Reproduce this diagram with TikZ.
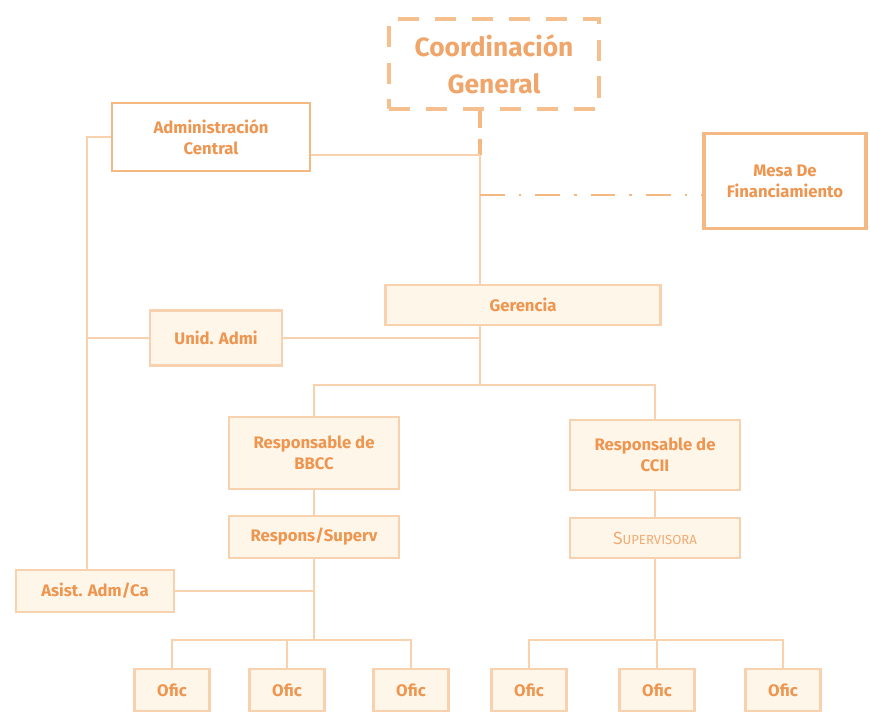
\documentclass[tikz,border=0pt]{standalone}
\usepackage{fontspec}
\setmainfont{Fira Sans}
\usepackage{tikz}
\usetikzlibrary{positioning, calc}
\usepackage{xcolor}
\definecolor{orgtext}{RGB}{238,150,80}
\definecolor{orgline}{RGB}{248,210,175}
\definecolor{orgedge}{RGB}{244,185,130}
\definecolor{orgfill}{RGB}{255,246,234}

\tikzset{
  box/.style={draw=orgedge, line width=1pt, fill=white, text=orgtext, align=center,
    font=\fontsize{9.5}{12}\selectfont\bfseries, inner sep=2pt},
  lightbox/.style={box, draw=orgline, fill=orgfill, line width=1.2pt},
  thickbox/.style={box, line width=2pt},
  dashbox/.style={box, draw=orgedge!90, line width=2.2pt, dash pattern=on 12pt off 9pt,
    text=orgtext!85, font=\fontsize{15}{21}\selectfont\bfseries},
  link/.style={draw=orgline, line width=1.1pt},
}

\begin{document}
\begin{tikzpicture}[x=0.02cm, y=-0.02cm]
  \useasboundingbox (0,0) rectangle (870,712);
  % top level
  \node[dashbox, minimum width=4.2cm, minimum height=1.8cm] (coord) at (494,64) {Coordinación\\General};
  \node[box, minimum width=3.95cm, minimum height=1.35cm] (admin) at (211,137) {Administración\\Central};
  \node[thickbox, minimum width=3.25cm, minimum height=1.9cm] (mesa) at (785,181) {Mesa De\\Financiamiento};
  \node[lightbox, minimum width=5.5cm, minimum height=0.8cm] (geren) at (523,305) {Gerencia};
  \node[lightbox, minimum width=2.65cm, minimum height=1.1cm] (unid) at (216,338) {Unid. Admi};
  % responsables
  \node[lightbox, minimum width=3.4cm, minimum height=1.45cm] (bbcc) at (314,453) {Responsable de\\BBCC};
  \node[lightbox, minimum width=3.4cm, minimum height=0.85cm] (supb) at (314,537) {Respons/Superv};
  \node[lightbox, minimum width=3.4cm, minimum height=1.4cm] (ccii) at (655,455) {Responsable de\\CCII};
  \node[lightbox, minimum width=3.4cm, minimum height=0.8cm, font=\fontsize{10}{12}\selectfont, text=orgtext!80] (supc) at (655,538) {S{\fontsize{7.5}{9}\selectfont UPERVISORA}};
  \node[lightbox, minimum width=3.15cm, minimum height=0.85cm] (asist) at (95,591) {Asist. Adm/Ca};
  % oficinas
  \foreach \n/\x in {o1/172, o2/287, o3/411, o4/529, o5/657, o6/783}
    \node[lightbox, minimum width=1.5cm, minimum height=0.85cm] (\n) at (\x,690) {Ofic};

  % connectors
  \coordinate (hub) at (480,155);
  \coordinate (mid) at (480,195);
  \coordinate (spine) at (87,137);
  \draw[link, draw=orgedge, line width=2pt, dash pattern=on 10pt off 6pt] (coord.south -| hub) -- (hub);
  \draw[link] (hub) -- (hub |- geren.north);
  \draw[link] (hub -| admin.east) -- (hub);
  \draw[link, draw=orgedge, line width=1.5pt, dash pattern=on 14pt off 8pt on 1.5pt off 8pt] (mid) -- (mid -| mesa.west);
  \draw[link] (admin.west) -- (spine) -- (spine |- asist.north);
  \draw[link] (unid.west) -- (unid.west -| spine);
  \draw[link] (unid.east) -- (unid.east -| hub);
  \coordinate (busR) at (480,385);
  \draw[link] (geren.south -| hub) -- (busR);
  \draw[link] (bbcc.north) -- (bbcc.north |- busR) -- (ccii.north |- busR) -- (ccii.north);
  \draw[link] (bbcc) -- (supb);
  \draw[link] (ccii) -- (supc);
  \coordinate (busL) at (314,640);
  \coordinate (busC) at (655,640);
  \draw[link] (supb.south) -- (busL);
  \draw[link] (asist.east) -- (asist.east -| busL);
  \draw[link] (o1.north) -- (o1.north |- busL) -- (o3.north |- busL) -- (o3.north);
  \draw[link] (o2.north) -- (o2.north |- busL);
  \draw[link] (supc.south) -- (busC) -- (o5.north |- busC) -- (o5.north);
  \draw[link] (o4.north) -- (o4.north |- busC) -- (o6.north |- busC) -- (o6.north);
\end{tikzpicture}
\end{document}
